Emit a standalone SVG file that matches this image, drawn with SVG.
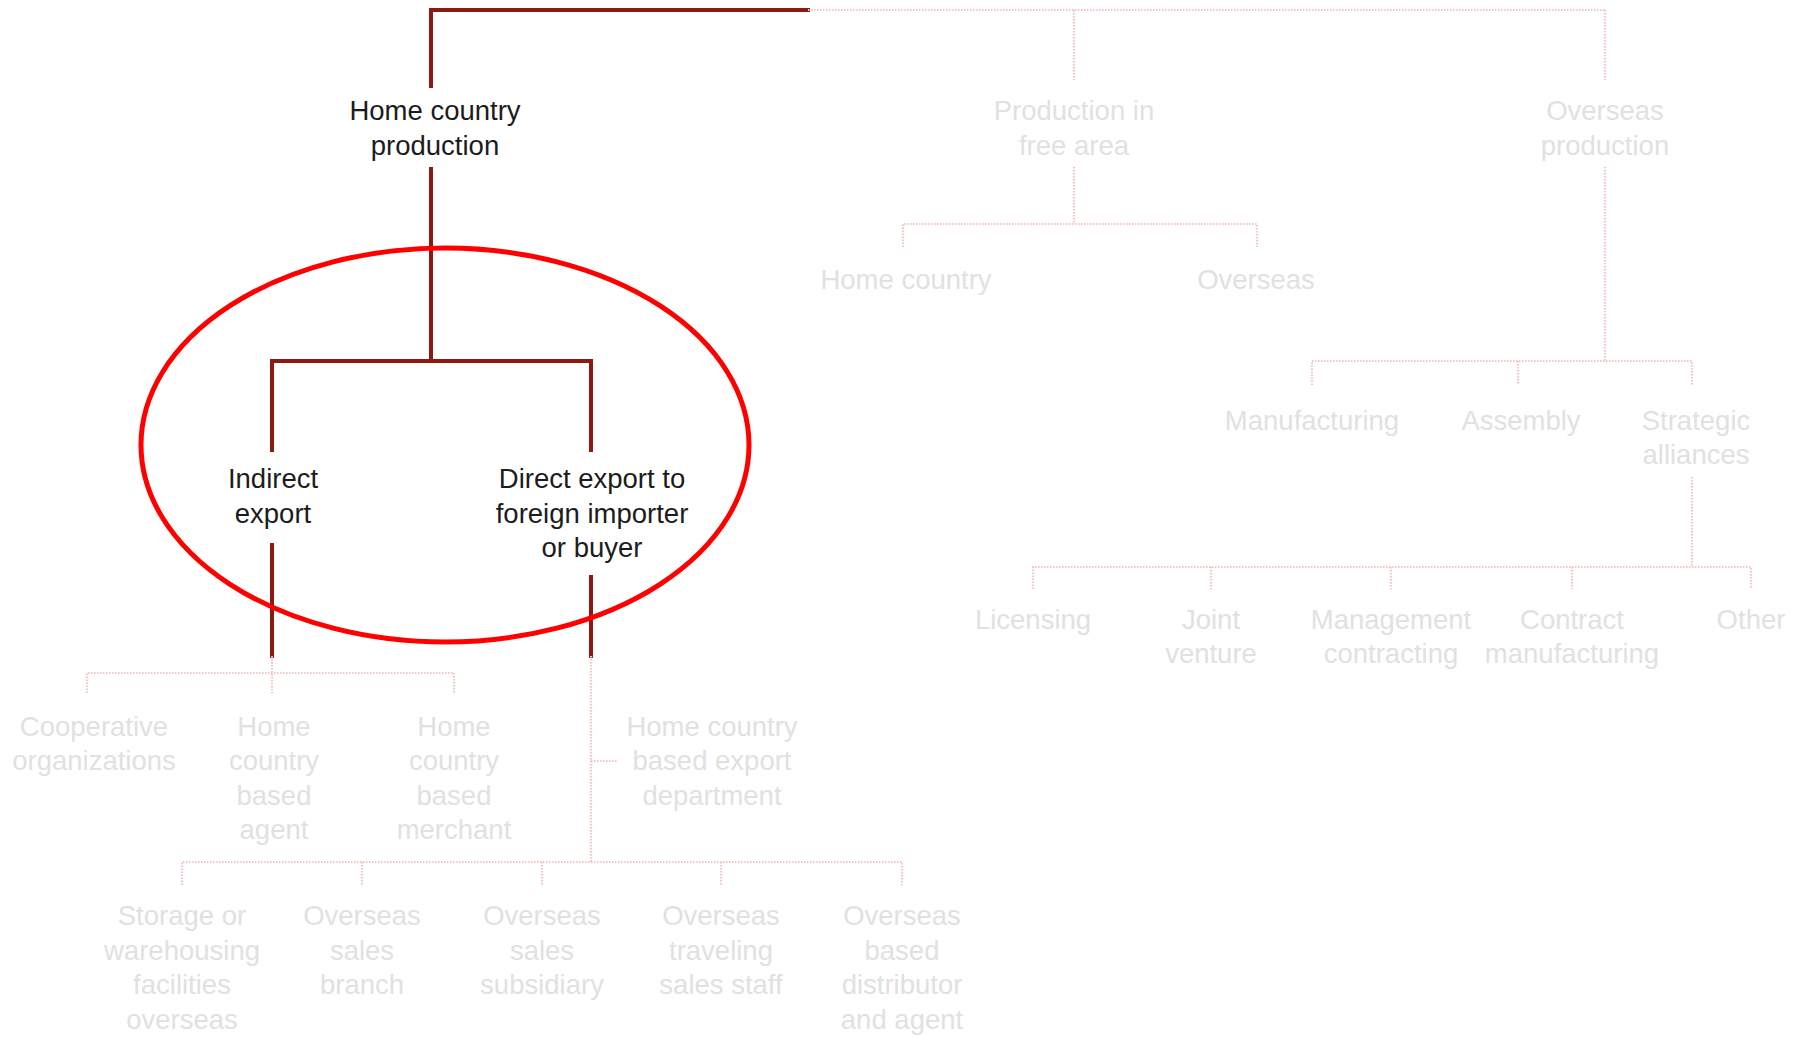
<svg xmlns="http://www.w3.org/2000/svg" width="1803" height="1037" viewBox="0 0 1803 1037">
  <style>
    text { font-family: "Liberation Sans", Arial, sans-serif; font-size: 27.5px; text-anchor: middle; }
    .on { fill: #1c1c1c; }
    .off { fill: #e1e1e1; }
    .thick { stroke: #8c1a12; stroke-width: 4; fill: none; stroke-linecap: square; }
    .dot { stroke: #f2c4c4; stroke-width: 2.2; fill: none; stroke-dasharray: 1.5 1.5; }
    .ring { stroke: #ff0000; stroke-width: 5; fill: none; }
  </style>
  <rect width="1803" height="1037" fill="#ffffff"/>

  <g id="connectors">
    <!-- highlighted path -->
    <polyline class="thick" points="808,10 431,10 431,86"/>
    <line class="thick" x1="431" y1="169" x2="431" y2="361"/>
    <polyline class="thick" points="272,450 272,361 591,361 591,450"/>
    <line class="thick" x1="272" y1="545" x2="272" y2="656"/>
    <line class="thick" x1="591" y1="577" x2="591" y2="656"/>

    <!-- faded paths -->
    <line class="dot" x1="808" y1="10" x2="1605" y2="10"/>
    <line class="dot" x1="1074" y1="10" x2="1074" y2="80"/>
    <line class="dot" x1="1605" y1="10" x2="1605" y2="80"/>

    <line class="dot" x1="1074" y1="167" x2="1074" y2="224"/>
    <polyline class="dot" points="903,247 903,224 1257,224 1257,247"/>

    <line class="dot" x1="1605" y1="167" x2="1605" y2="361"/>
    <polyline class="dot" points="1312,385 1312,361 1692,361 1692,385"/>
    <line class="dot" x1="1518" y1="361" x2="1518" y2="385"/>
    <line class="dot" x1="1692" y1="477" x2="1692" y2="567"/>
    <polyline class="dot" points="1033,589 1033,567 1751,567 1751,589"/>
    <line class="dot" x1="1211" y1="567" x2="1211" y2="589"/>
    <line class="dot" x1="1391" y1="567" x2="1391" y2="589"/>
    <line class="dot" x1="1572" y1="567" x2="1572" y2="589"/>

    <line class="dot" x1="272" y1="656" x2="272" y2="693"/>
    <polyline class="dot" points="87,693 87,673 454,673 454,693"/>

    <line class="dot" x1="591" y1="656" x2="591" y2="862"/>
    <line class="dot" x1="591" y1="761" x2="618" y2="761"/>
    <polyline class="dot" points="182,885 182,862 902,862 902,885"/>
    <line class="dot" x1="362" y1="862" x2="362" y2="885"/>
    <line class="dot" x1="542" y1="862" x2="542" y2="885"/>
    <line class="dot" x1="721" y1="862" x2="721" y2="885"/>
  </g>

  <g id="home-country-production">
    <text class="on" x="435" y="120">Home country</text>
    <text class="on" x="435" y="155">production</text>
  </g>
  <g id="indirect-export">
    <text class="on" x="273" y="488">Indirect</text>
    <text class="on" x="273" y="523">export</text>
  </g>
  <g id="direct-export">
    <text class="on" x="592" y="488">Direct export to</text>
    <text class="on" x="592" y="523">foreign importer</text>
    <text class="on" x="592" y="557">or buyer</text>
  </g>

  <g id="production-free-area">
    <text class="off" x="1074" y="120">Production in</text>
    <text class="off" x="1074" y="155">free area</text>
  </g>
  <g id="free-area-home-country">
    <text class="off" x="906" y="289">Home country</text>
  </g>
  <g id="free-area-overseas">
    <text class="off" x="1256" y="289">Overseas</text>
  </g>

  <g id="overseas-production">
    <text class="off" x="1605" y="120">Overseas</text>
    <text class="off" x="1605" y="155">production</text>
  </g>
  <g id="manufacturing">
    <text class="off" x="1312" y="430">Manufacturing</text>
  </g>
  <g id="assembly">
    <text class="off" x="1521" y="430">Assembly</text>
  </g>
  <g id="strategic-alliances">
    <text class="off" x="1696" y="430">Strategic</text>
    <text class="off" x="1696" y="464">alliances</text>
  </g>
  <g id="licensing">
    <text class="off" x="1033" y="629">Licensing</text>
  </g>
  <g id="joint-venture">
    <text class="off" x="1211" y="629">Joint</text>
    <text class="off" x="1211" y="663">venture</text>
  </g>
  <g id="management-contracting">
    <text class="off" x="1391" y="629">Management</text>
    <text class="off" x="1391" y="663">contracting</text>
  </g>
  <g id="contract-manufacturing">
    <text class="off" x="1572" y="629">Contract</text>
    <text class="off" x="1572" y="663">manufacturing</text>
  </g>
  <g id="other">
    <text class="off" x="1751" y="629">Other</text>
  </g>

  <g id="cooperative-organizations">
    <text class="off" x="94" y="736">Cooperative</text>
    <text class="off" x="94" y="770">organizations</text>
  </g>
  <g id="home-country-based-agent">
    <text class="off" x="274" y="736">Home</text>
    <text class="off" x="274" y="770">country</text>
    <text class="off" x="274" y="805">based</text>
    <text class="off" x="274" y="839">agent</text>
  </g>
  <g id="home-country-based-merchant">
    <text class="off" x="454" y="736">Home</text>
    <text class="off" x="454" y="770">country</text>
    <text class="off" x="454" y="805">based</text>
    <text class="off" x="454" y="839">merchant</text>
  </g>
  <g id="home-country-export-department">
    <text class="off" x="712" y="736">Home country</text>
    <text class="off" x="712" y="770">based export</text>
    <text class="off" x="712" y="805">department</text>
  </g>

  <g id="storage-warehousing">
    <text class="off" x="182" y="925">Storage or</text>
    <text class="off" x="182" y="960">warehousing</text>
    <text class="off" x="182" y="994">facilities</text>
    <text class="off" x="182" y="1029">overseas</text>
  </g>
  <g id="overseas-sales-branch">
    <text class="off" x="362" y="925">Overseas</text>
    <text class="off" x="362" y="960">sales</text>
    <text class="off" x="362" y="994">branch</text>
  </g>
  <g id="overseas-sales-subsidiary">
    <text class="off" x="542" y="925">Overseas</text>
    <text class="off" x="542" y="960">sales</text>
    <text class="off" x="542" y="994">subsidiary</text>
  </g>
  <g id="overseas-traveling-staff">
    <text class="off" x="721" y="925">Overseas</text>
    <text class="off" x="721" y="960">traveling</text>
    <text class="off" x="721" y="994">sales staff</text>
  </g>
  <g id="overseas-distributor-agent">
    <text class="off" x="902" y="925">Overseas</text>
    <text class="off" x="902" y="960">based</text>
    <text class="off" x="902" y="994">distributor</text>
    <text class="off" x="902" y="1029">and agent</text>
  </g>

  <g id="highlight">
    <ellipse class="ring" cx="445" cy="445" rx="304" ry="197"/>
  </g>
</svg>
